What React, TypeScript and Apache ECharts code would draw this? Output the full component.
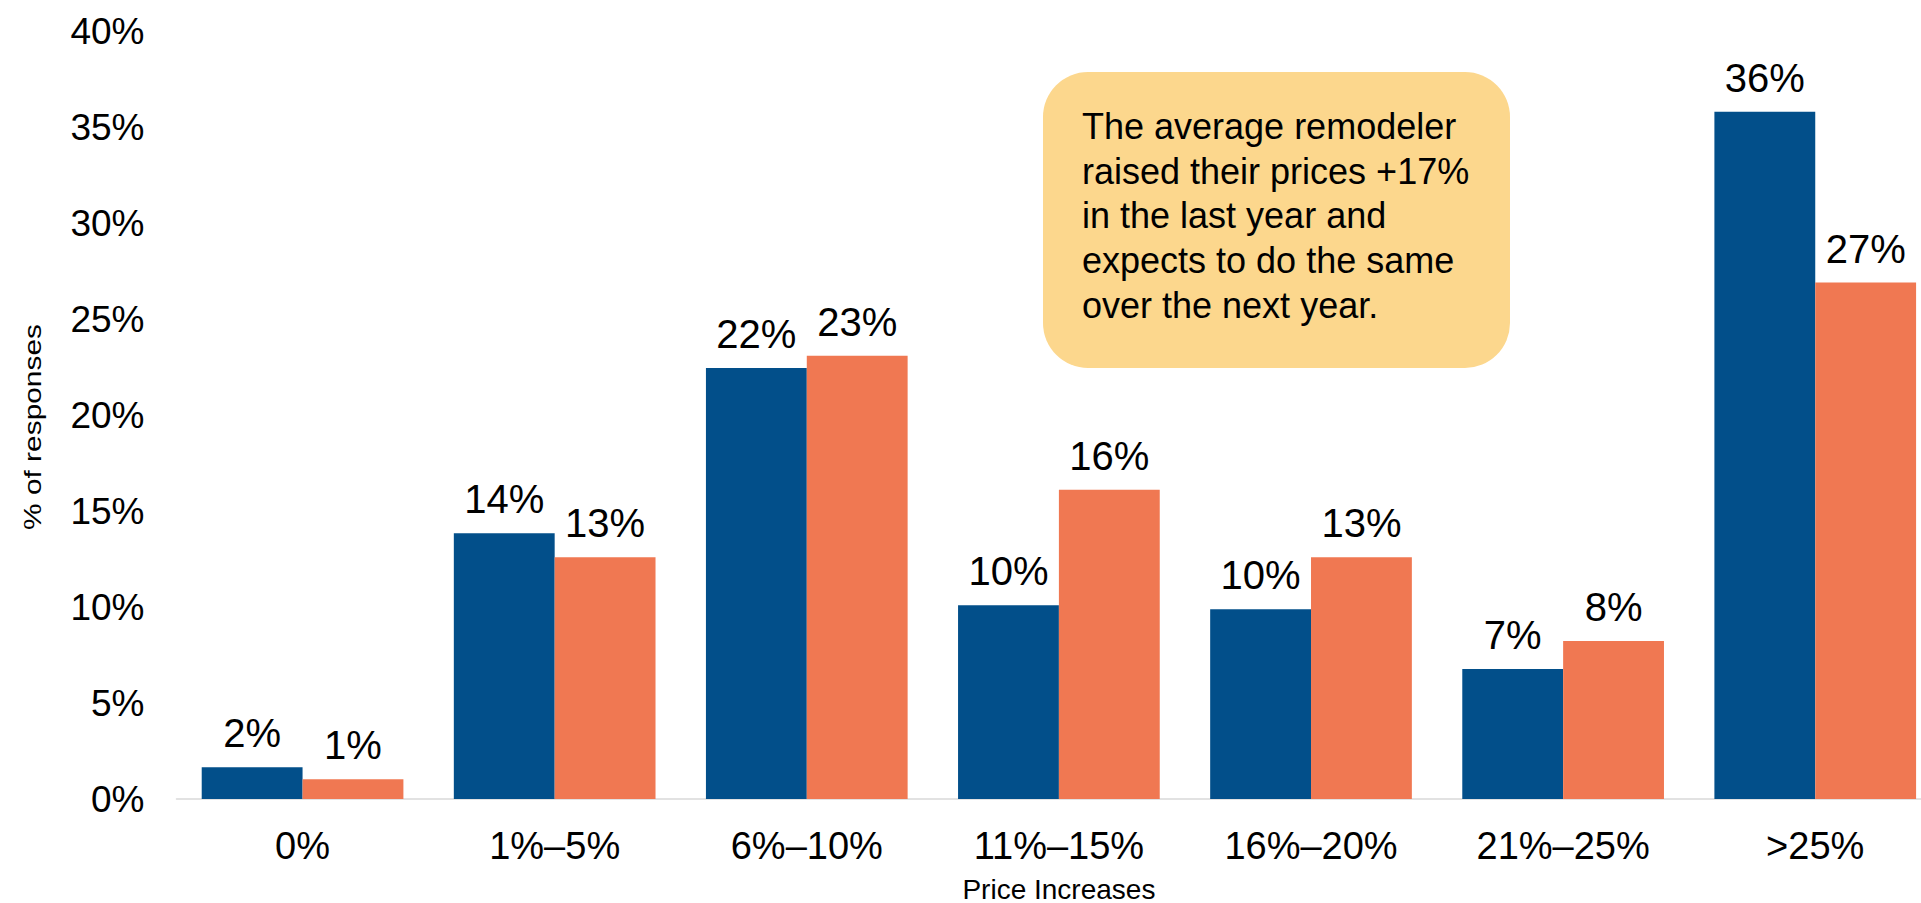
import React, { useEffect, useRef } from "react";
import * as echarts from "echarts";

const categories = ["0%", "1%–5%", "6%–10%", "11%–15%", "16%–20%", "21%–25%", ">25%"];
const lastYear = [1.65, 13.84, 22.45, 10.09, 9.88, 6.77, 35.8];
const nextYear = [1.03, 12.59, 23.09, 16.11, 12.59, 8.23, 26.9];
const yTicks = { min: 0, max: 40, interval: 5 };
const calloutLines = [
  "The average remodeler",
  "raised their prices +17%",
  "in the last year and",
  "expects to do the same",
  "over the next year.",
];
const xTitle = "Price Increases";
const yTitle = "% of responses";

const SANS = '"Liberation Sans", Arial, sans-serif';

export default function App() {
  const ref = useRef<HTMLDivElement>(null);
  useEffect(() => {
    document.body.style.margin = "0";
    if (!ref.current) return;
    const chart = echarts.init(ref.current, undefined, { renderer: "svg" });
    const labelCfg = {
      show: true,
      position: "top",
      distance: 14,
      fontSize: 40,
      fontFamily: SANS,
      color: "#000",
      formatter: (p: any) => `${Math.round(p.value)}%`,
    };
    chart.setOption({
      animation: false,
      backgroundColor: "#ffffff",
      grid: { left: 176.5, right: -20.3, top: 31, bottom: 104, containLabel: false, outerBoundsMode: "none" },
      xAxis: {
        type: "category",
        data: categories,
        name: xTitle,
        nameLocation: "middle",
        nameGap: 76,
        nameTextStyle: { fontSize: 28, fontFamily: SANS, color: "#000" },
        axisLine: { show: true, lineStyle: { color: "#D9D9D9", width: 1.5 } },
        axisTick: { show: false },
        axisLabel: { fontSize: 38, fontFamily: SANS, color: "#000", margin: 28, interval: 0 },
        splitLine: { show: false },
      },
      yAxis: {
        type: "value",
        min: yTicks.min,
        max: yTicks.max,
        interval: yTicks.interval,
        axisLine: { show: false },
        axisTick: { show: false },
        splitLine: { show: false },
        axisLabel: { formatter: "{value}%", fontSize: 37, fontFamily: SANS, color: "#000", margin: 32 },
      },
      series: [
        {
          name: "Last year",
          type: "bar",
          data: lastYear,
          barGap: "0%",
          barCategoryGap: "20%",
          itemStyle: { color: "#024F8A" },
          label: labelCfg,
        },
        {
          name: "Next year",
          type: "bar",
          data: nextYear,
          barGap: "0%",
          barCategoryGap: "20%",
          itemStyle: { color: "#F07852" },
          label: labelCfg,
        },
      ],
      graphic: [
        {
          type: "rect",
          x: 1043,
          y: 72,
          shape: { x: 0, y: 0, width: 467, height: 296, r: 45 },
          style: { fill: "#FCD78D" },
          z: 10,
        },
        {
          type: "text",
          x: 1082,
          y: 104,
          z: 11,
          style: {
            text: calloutLines.join("\n"),
            font: `36px ${SANS}`,
            fill: "#000",
            lineHeight: 44.7,
            textAlign: "left",
            textVerticalAlign: "top",
          },
        },
        {
          type: "text",
          x: 33,
          y: 427,
          rotation: Math.PI / 2,
          scaleX: 1.3,
          style: {
            text: yTitle,
            font: `23px ${SANS}`,
            fill: "#000",
            textAlign: "center",
            textVerticalAlign: "middle",
          },
        },
      ],
    });
    return () => chart.dispose();
  }, []);
  return <div ref={ref} style={{ width: 1921, height: 903 }} />;
}
